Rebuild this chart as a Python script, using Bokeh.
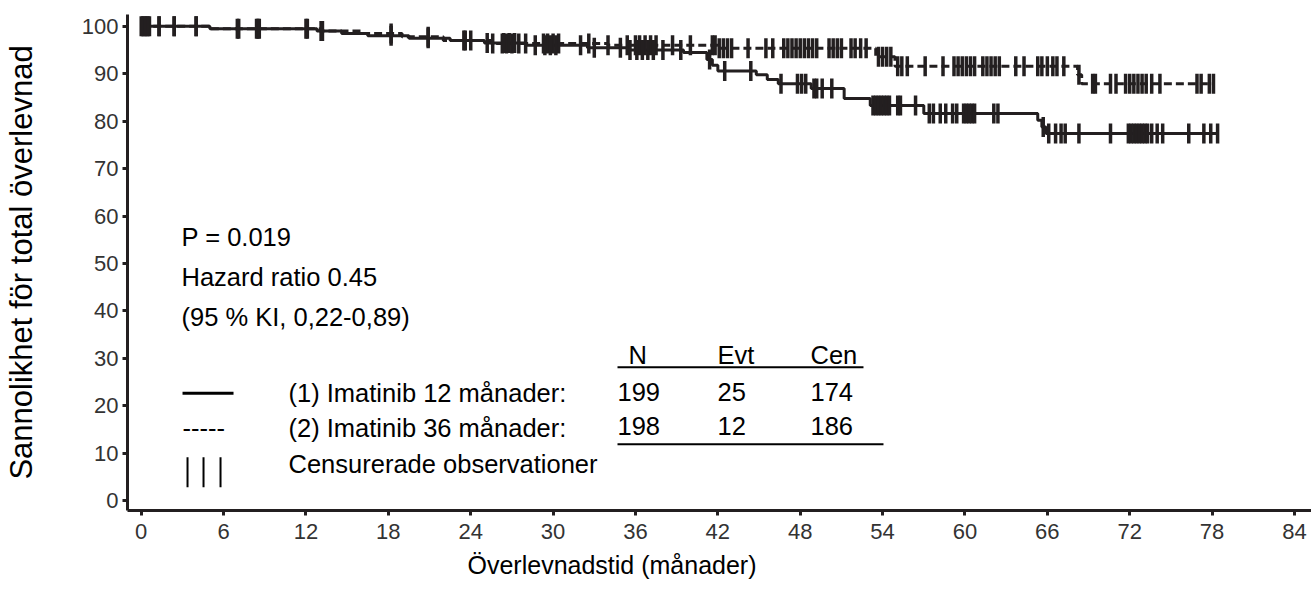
import numpy as np
from bokeh.plotting import figure
from bokeh.models import Range1d, FixedTicker, Label, Title
from bokeh.embed import file_html
from bokeh.resources import INLINE

# ---------------- data ----------------
# (1) Imatinib 12 months: event times (months) and survival (%) after each step
times_12 = [0, 5.0, 12.8, 14.6, 16.5, 19.5, 22.5, 25.0, 28.0, 32.5, 35.5, 39.5,
            41.2, 41.6, 42.0, 44.8, 45.6, 46.4, 48.8, 51.2, 53.1, 57.0, 65.3, 65.6, 65.9]
surv_12 = [100, 99.5, 99.0, 98.5, 98.0, 97.5, 97.0, 96.5, 96.0, 95.5, 95.0, 94.5,
           93.0, 91.8, 90.6, 89.8, 88.8, 87.9, 86.9, 84.8, 83.3, 81.6, 80.2, 78.8, 77.4]
end_12 = 78.5
censor_12 = [0.1, 0.3, 0.5, 1.3, 2.4, 4.0, 7.1, 8.4, 8.6, 12.0, 13.2, 18.2, 20.9,
             23.6, 25.2, 26.4, 26.8, 27.2, 28.7, 29.4, 29.8, 30.2, 32.0, 33.0, 34.9,
             35.6, 36.1, 36.5, 36.9, 37.3, 38.0, 39.3, 41.4, 42.5, 44.4, 46.6, 47.8,
             48.1, 48.4, 49.0, 49.2, 49.6, 50.3, 53.3, 53.5, 53.7, 53.9, 54.1, 54.3,
             54.5, 55.1, 55.3, 56.4, 57.4, 57.7, 58.2, 58.6, 59.1, 59.4, 59.9, 60.1,
             60.3, 60.5, 60.7, 62.1, 62.4, 65.7, 66.1, 66.6, 67.0, 67.3, 68.3, 70.6,
             71.9, 72.1, 72.3, 72.5, 72.7, 72.9, 73.1, 73.3, 73.6, 74.0, 74.4, 76.3,
             77.4, 77.9, 78.4]

# (2) Imatinib 36 months
times_36 = [0, 5.0, 13.0, 16.0, 19.0, 22.0, 25.5, 34.0, 42.0, 53.5, 54.9, 68.2, 68.5]
surv_36 = [100, 99.5, 99.0, 98.5, 97.8, 97.0, 96.4, 96.0, 95.4, 93.6, 91.6, 89.8, 87.9]
end_36 = 78.2
censor_36 = [0.0, 0.2, 0.4, 0.6, 1.3, 2.4, 4.0, 7.0, 8.5, 12.1, 13.1, 18.2, 20.9,
             23.5, 24.0, 25.6, 26.3, 26.6, 27.0, 27.5, 28.0, 29.3, 29.6, 30.0, 30.4,
             32.6, 34.0, 35.4, 36.0, 36.3, 36.7, 37.1, 37.5, 38.7, 40.0, 41.6, 41.8,
             42.1, 42.4, 42.7, 43.0, 44.2, 45.5, 46.0, 46.8, 47.1, 47.4, 47.7, 48.0,
             48.3, 48.6, 48.9, 49.2, 50.1, 50.4, 50.7, 51.0, 51.7, 52.0, 52.4, 52.8,
             53.7, 54.0, 54.3, 54.6, 55.1, 55.4, 55.8, 57.1, 58.4, 59.2, 59.5, 59.8,
             60.1, 60.4, 60.7, 61.3, 61.6, 61.9, 62.2, 62.5, 63.7, 64.3, 65.3, 65.6,
             66.0, 66.4, 66.7, 67.2, 68.3, 69.3, 69.5, 70.6, 71.0, 71.7, 72.0, 72.3,
             72.6, 72.9, 73.2, 73.6, 74.2, 76.9, 77.2, 77.8, 78.1]

x_ticks = list(range(0, 85, 6))
y_ticks = list(range(0, 101, 10))

stats_lines = ["P = 0.019", "Hazard ratio 0.45", "(95 % KI, 0,22-0,89)"]
table_header = ["N", "Evt", "Cen"]
row_12 = ["199", "25", "174"]
row_36 = ["198", "12", "186"]
label_12 = "(1) Imatinib 12 månader:"
label_36 = "(2) Imatinib 36 månader:"
label_cens = "Censurerade observationer"
x_title = "Överlevnadstid (månader)"
y_title = "Sannolikhet för total överlevnad"

# ---------------- figure ----------------
INK = "#231f20"
FONT = "Liberation Sans"

p = figure(width=1311, height=600, x_range=Range1d(-1.0, 85.24),
           y_range=Range1d(-2.1, 102.5), output_backend="svg",
           toolbar_location=None, min_border_left=127, min_border_right=0,
           min_border_top=14, min_border_bottom=90)
p.grid.visible = False
p.outline_line_color = None
p.background_fill_color = "white"

for ax, ticks in ((p.xaxis, x_ticks), (p.yaxis, y_ticks)):
    ax.ticker = FixedTicker(ticks=ticks)
    ax.axis_line_width = 3
    ax.axis_line_color = INK
    ax.major_tick_line_width = 3
    ax.major_tick_line_color = INK
    ax.major_tick_in = 0
    ax.major_tick_out = 5
    ax.minor_tick_line_color = None
    ax.major_label_text_font = FONT
    ax.major_label_text_font_size = "22px"
    ax.major_label_text_color = "#333333"
p.xaxis.major_label_standoff = 8
p.yaxis.major_label_standoff = 4

p.yaxis.axis_label = y_title
p.yaxis.axis_label_text_font = FONT
p.yaxis.axis_label_text_font_size = "31px"
p.yaxis.axis_label_text_font_style = "normal"
p.yaxis.axis_label_text_color = "black"
p.yaxis.axis_label_standoff = 40

p.add_layout(Title(text=x_title, align="left", offset=340, text_font=FONT,
                   text_font_size="25px", text_font_style="normal",
                   text_color="black", standoff=14), "below")


def step_xy(times, surv, end):
    return list(times) + [end], list(surv) + [surv[-1]]


def level_at(times, surv, cens):
    t = np.asarray(times)
    s = np.asarray(surv)
    idx = np.searchsorted(t, np.asarray(cens), side="right") - 1
    return s[idx]


x12, y12 = step_xy(times_12, surv_12, end_12)
x36, y36 = step_xy(times_36, surv_36, end_36)
p.step(x36, y36, mode="after", line_color=INK, line_width=3, line_dash="8 4")
p.step(x12, y12, mode="after", line_color=INK, line_width=3)

p.rect(censor_36, level_at(times_36, surv_36, censor_36), width=3.5, height=20,
       width_units="screen", height_units="screen", fill_color=INK, line_color=None)
p.rect(censor_12, level_at(times_12, surv_12, censor_12), width=3.5, height=20,
       width_units="screen", height_units="screen", fill_color=INK, line_color=None)

# ---------------- annotations (page-pixel positions) ----------------
def dx(px):
    return (px - 140.7) / 13.73


def dy(py):
    return 100 - (py - 26) / 4.742


def txt(s, px, py, size="25.5px", align="left"):
    p.add_layout(Label(x=dx(px), y=dy(py), text=s, text_font=FONT,
                       text_font_size=size, text_align=align,
                       text_baseline="middle", text_color="black"))


for i, s in enumerate(stats_lines):
    txt(s, 181, 237 + 40 * i)

cols = [617, 717, 810]
txt(table_header[0], 628, 355)
txt(table_header[1], cols[1], 355)
txt(table_header[2], cols[2], 355)
for c, s in zip(cols, row_12):
    txt(s, c, 392)
for c, s in zip(cols, row_36):
    txt(s, c, 426)

txt(label_12, 288, 393)
txt(label_36, 288, 428)
txt("-----", 182, 428)
txt(label_cens, 288, 464)

# legend line sample and censor sample
p.segment(x0=[dx(182)], y0=[dy(393)], x1=[dx(233)], y1=[dy(393)], line_color="black", line_width=3)
p.segment(x0=[dx(187), dx(203), dx(220)], y0=[dy(457)] * 3,
          x1=[dx(187), dx(203), dx(220)], y1=[dy(487)] * 3, line_color="black", line_width=2)
# table underlines
p.segment(x0=[dx(617), dx(617)], y0=[dy(367), dy(444)],
          x1=[dx(863), dx(883)], y1=[dy(367), dy(444)], line_color="black", line_width=2)

open("out.html", "w").write(file_html(p, INLINE))
